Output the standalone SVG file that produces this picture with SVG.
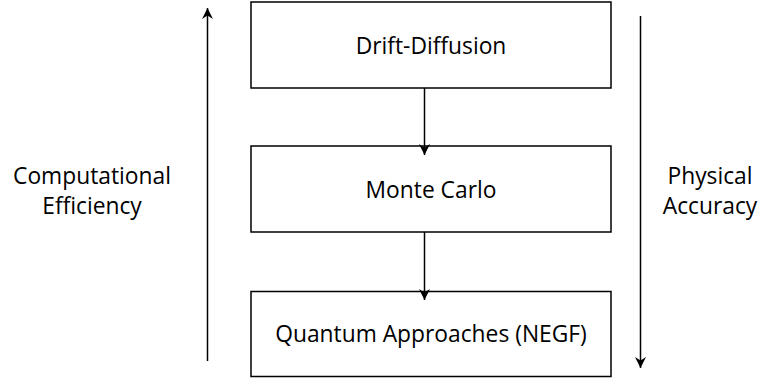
<svg xmlns="http://www.w3.org/2000/svg" width="763" height="378" viewBox="0 0 763 378">
<style>
.box{fill:#fff;stroke:#000;stroke-width:1.5}
.lbl{font-family:"Open Sans","Noto Sans","Liberation Sans",sans-serif;font-size:22.8px;fill:#000;text-anchor:middle}
.con{stroke:#000;stroke-width:1.5;fill:none}
</style>
<defs>
<marker id="ah" markerWidth="12" markerHeight="12" viewBox="0 0 12 12" refX="11" refY="6" orient="auto" markerUnits="userSpaceOnUse">
<path d="M0,0.5 L11,6 L0,11.5 L3.5,6 z" fill="#000"/>
</marker>
</defs>
<rect width="763" height="378" fill="#fff"/>
<g id="n1"><rect class="box" x="251" y="2" width="360" height="86"/><text class="lbl" x="431" y="54">Drift-Diffusion</text></g>
<g id="n2"><rect class="box" x="251" y="146" width="360" height="86"/><text class="lbl" x="431" y="198">Monte Carlo</text></g>
<g id="n3"><rect class="box" x="251" y="291.5" width="360" height="85"/><text class="lbl" x="431" y="342">Quantum Approaches (NEGF)</text></g>
<g id="connectors">
<line class="con" x1="424.5" y1="88" x2="424.5" y2="155" marker-end="url(#ah)"/>
<line class="con" x1="424.5" y1="232" x2="424.5" y2="300" marker-end="url(#ah)"/>
<line class="con" x1="207.5" y1="361" x2="207.5" y2="8" marker-end="url(#ah)"/>
<line class="con" x1="640.5" y1="16" x2="640.5" y2="368" marker-end="url(#ah)"/>
</g>
<g id="left-label"><text class="lbl" x="92" y="184">Computational</text><text class="lbl" x="92" y="214">Efficiency</text></g>
<g id="right-label"><text class="lbl" x="710" y="184">Physical</text><text class="lbl" x="710" y="214">Accuracy</text></g>
</svg>
